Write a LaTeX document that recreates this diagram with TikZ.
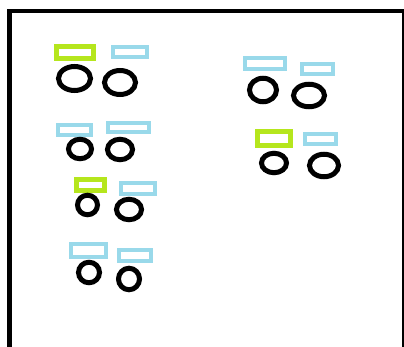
\documentclass[tikz,border=0pt]{standalone}
\usetikzlibrary{shapes.geometric}
\definecolor{lime}{HTML}{B5E61D}
\definecolor{sky}{HTML}{99D9EA}
\tikzset{
  greenbox/.style={draw=lime,line width=4.5pt,rectangle,inner sep=0pt,outer sep=0pt,minimum width=#1},
  bluebox/.style={draw=sky,line width=4pt,rectangle,inner sep=0pt,outer sep=0pt,minimum width=#1},
  ring/.style={draw=black,line width=5pt,ellipse,inner sep=0pt,outer sep=0pt},
  frameline/.style={draw=black}
}
\begin{document}
\begin{tikzpicture}[x=1pt,y=-1pt]
\useasboundingbox (0,0) rectangle (404,347);
\clip (0,0) rectangle (404,347);
% frame
\coordinate (tr) at (404,11);
\coordinate (bl) at (9.5,350);
\coordinate (rt) at (403,11);
\coordinate (rb) at (403,350);
\draw[frameline,line width=5pt] (bl) -- (9.5,9);
\draw[frameline,line width=4pt] (7,11) -- (tr);
\draw[frameline,line width=2pt] (rt) -- (rb);
% group 1
\node[greenbox=37pt,minimum height=12pt] (g1a) at (75,52.5) {};
\node[bluebox=34pt,minimum height=10pt] (g1b) at (130,52) {};
\node[ring,minimum width=32pt,minimum height=24pt] (g1c) at (74.5,78.5) {};
\node[ring,minimum width=31pt,minimum height=24pt] (g1d) at (120,82.5) {};
% group 2
\node[bluebox=33pt,minimum height=10pt] (g2a) at (74.5,130) {};
\node[bluebox=41pt,minimum height=9pt] (g2b) at (128.5,127.5) {};
\node[ring,minimum width=23pt,minimum height=19.5pt] (g2c) at (80,149) {};
\node[ring,minimum width=25pt,minimum height=20.5pt] (g2d) at (120,149.5) {};
% group 3
\node[greenbox=28pt,minimum height=11pt] (g3a) at (90.5,185) {};
\node[bluebox=34pt,minimum height=11pt] (g3b) at (138,188.5) {};
\node[ring,minimum width=20pt,minimum height=19.5pt] (g3c) at (87.5,205) {};
\node[ring,minimum width=25pt,minimum height=20.5pt] (g3d) at (129,209.5) {};
% group 4
\node[bluebox=35pt,minimum height=13pt] (g4a) at (88.5,250.5) {};
\node[bluebox=32pt,minimum height=11pt] (g4b) at (135,255.5) {};
\node[ring,minimum width=21pt,minimum height=20.5pt] (g4c) at (89,272.5) {};
\node[ring,minimum width=21pt,minimum height=21.5pt] (g4d) at (129,279) {};
% right group 1
\node[bluebox=40pt,minimum height=11pt] (r1a) at (265,63.5) {};
\node[bluebox=31pt,minimum height=10pt] (r1b) at (317.5,69) {};
\node[ring,minimum width=27pt,minimum height=23.5pt] (r1c) at (263,90) {};
\node[ring,minimum width=31pt,minimum height=22.5pt] (r1d) at (309,95.5) {};
% right group 2
\node[greenbox=33pt,minimum height=14pt] (r2a) at (274,138.5) {};
\node[bluebox=31pt,minimum height=10pt] (r2b) at (320.5,139) {};
\node[ring,minimum width=25pt,minimum height=19.5pt] (r2c) at (274,163) {};
\node[ring,minimum width=29pt,minimum height=22.5pt] (r2d) at (324,165.5) {};
\end{tikzpicture}
\end{document}
